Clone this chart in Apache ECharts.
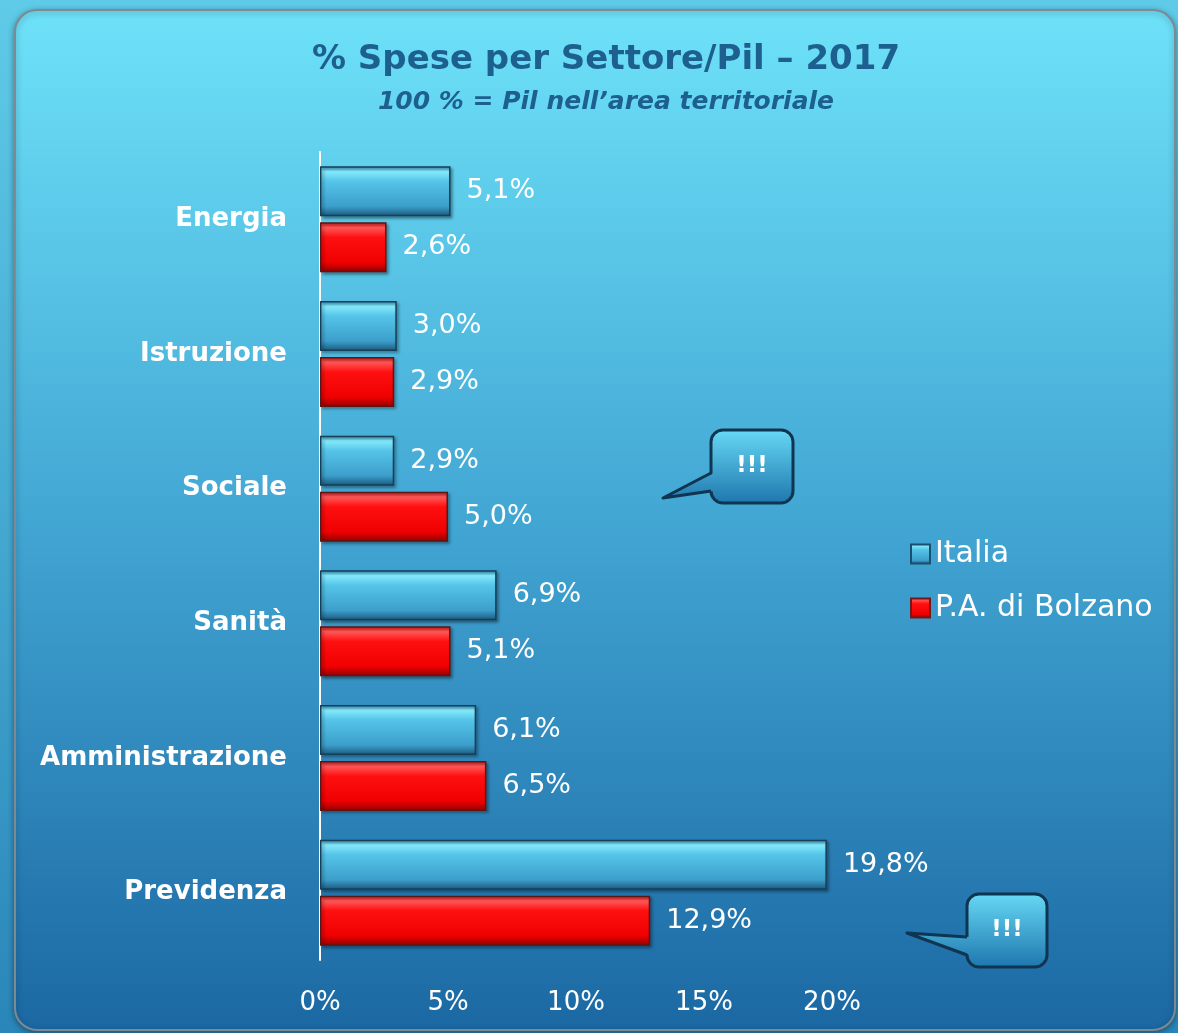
<!DOCTYPE html>
<html>
<head>
<meta charset="utf-8">
<script src="https://cdn.jsdelivr.net/npm/echarts@6/dist/echarts.min.js"></script>
<style>
  html, body { margin: 0; padding: 0; }
  #chart { width: 1178px; height: 1033px; }
</style>
</head>
<body>
<div id="chart"></div>
<script>
var categories = ['Energia', 'Istruzione', 'Sociale', 'Sanità', 'Amministrazione', 'Previdenza'];
var italia = [5.1, 3.0, 2.9, 6.9, 6.1, 19.8];
var bolzano = [2.6, 2.9, 5.0, 5.1, 6.5, 12.9];
var xTicks = [0, 5, 10, 15, 20];

var FONT = "'DejaVu Sans', 'Open Sans', sans-serif";

function fmt(v) {
  return v.toFixed(1).replace('.', ',') + '%';
}

var blueFill = new echarts.graphic.LinearGradient(0, 0, 0, 1, [
  { offset: 0, color: '#2f8fbc' },
  { offset: 0.1, color: '#86ecfd' },
  { offset: 0.3, color: '#55c4e8' },
  { offset: 0.8, color: '#3c9fcb' },
  { offset: 1, color: '#1a587c' }
]);
var redFill = new echarts.graphic.LinearGradient(0, 0, 0, 1, [
  { offset: 0, color: '#e01010' },
  { offset: 0.1, color: '#ff5a5a' },
  { offset: 0.3, color: '#ff1010' },
  { offset: 0.8, color: '#f00000' },
  { offset: 1, color: '#900000' }
]);

// speech bubble: rounded box + tail pointing left
function bubble(x, y, w, h, tip, j1, j2) {
  var fill = {
    type: 'linear', x: 0, y: y, x2: 0, y2: y + h, global: true,
    colorStops: [{ offset: 0, color: '#66d8f4' }, { offset: 1, color: '#1f77ae' }]
  };
  return [
    {
      type: 'rect', z: 10,
      shape: { x: x, y: y, width: w, height: h, r: 12 },
      style: { fill: fill, stroke: '#0f3550', lineWidth: 3 }
    },
    {
      type: 'polygon', z: 11,
      shape: { points: [tip, [x + 3, j1], [x + 3, j2]] },
      style: { fill: fill }
    },
    {
      type: 'polyline', z: 12,
      shape: { points: [[x, j1], tip, [x, j2]] },
      style: { stroke: '#0f3550', lineWidth: 3, fill: null, lineJoin: 'round' }
    },
    {
      type: 'text', z: 13, x: x + w / 2, y: y + h / 2,
      style: { text: '!!!', fill: '#ffffff', font: 'bold 23px ' + FONT, textAlign: 'center', textVerticalAlign: 'middle' }
    }
  ];
}

var chart = echarts.init(document.getElementById('chart'));

chart.setOption({
  backgroundColor: new echarts.graphic.LinearGradient(0, 0, 0, 1, [
    { offset: 0, color: '#5fcbe8' },
    { offset: 1, color: '#2a86b9' }
  ]),
  graphic: [
    {
      type: 'rect', z: -10,
      shape: { x: 15, y: 10, width: 1160, height: 1020, r: 22 },
      style: {
        fill: {
          type: 'linear', x: 0, y: 0, x2: 0, y2: 1,
          colorStops: [
            { offset: 0, color: '#6ee2f9' },
            { offset: 0.5, color: '#42a6d3' },
            { offset: 1, color: '#1b68a3' }
          ]
        },
        stroke: '#7d8a94', lineWidth: 2,
        shadowBlur: 6, shadowColor: 'rgba(0,0,0,0.35)', shadowOffsetY: 2
      }
    }
  ].concat(
    bubble(711, 430, 82, 73, [663, 498], 473, 491),
    bubble(967, 894, 80, 73, [907, 933], 937, 955)
  ),
  title: {
    text: '% Spese per Settore/Pil – 2017',
    subtext: '100 % = Pil nell’area territoriale',
    left: 601,
    textAlign: 'center',
    top: 38,
    itemGap: 13,
    textStyle: { color: '#1d5f8e', fontSize: 34, fontWeight: 'bold', fontFamily: FONT },
    subtextStyle: { color: '#1d5f8e', fontSize: 25, fontStyle: 'italic', fontWeight: 'bold', fontFamily: FONT }
  },
  legend: {
    orient: 'vertical',
    left: 905,
    top: 534,
    itemWidth: 19,
    itemHeight: 19,
    itemGap: 24,
    icon: 'rect',
    textStyle: { color: '#ffffff', fontSize: 30, lineHeight: 24, fontFamily: FONT },
    data: [
      { name: 'Italia', itemStyle: { color: blueFill, borderColor: '#1b4f6e', borderWidth: 2 } },
      { name: 'P.A. di Bolzano', itemStyle: { color: redFill, borderColor: '#6e1b1b', borderWidth: 2 } }
    ]
  },
  grid: { left: 320, right: 346, top: 152, bottom: 73, containLabel: false },
  xAxis: {
    type: 'value',
    min: xTicks[0],
    max: xTicks[xTicks.length - 1],
    interval: xTicks[1] - xTicks[0],
    axisLine: { show: false },
    axisTick: { show: false },
    splitLine: { show: false },
    axisLabel: { color: '#ffffff', fontSize: 26, fontFamily: FONT, margin: 30, formatter: '{value}%' }
  },
  yAxis: {
    type: 'category',
    inverse: true,
    data: categories,
    axisLine: { show: true, lineStyle: { color: '#ffffff', width: 2 } },
    axisTick: { show: false },
    axisLabel: { color: '#ffffff', fontSize: 26, fontWeight: 'bold', fontFamily: FONT, margin: 33 }
  },
  series: [
    {
      name: 'Italia',
      type: 'bar',
      data: italia,
      barWidth: 50,
      barGap: '12%',
      itemStyle: {
        color: blueFill, borderColor: '#173f58', borderWidth: 1.5,
        shadowBlur: 3, shadowColor: 'rgba(0,0,0,0.35)', shadowOffsetX: 2, shadowOffsetY: 2
      },
      label: {
        show: true, position: 'right', distance: 16,
        color: '#ffffff', fontSize: 27, fontFamily: FONT,
        formatter: function (p) { return fmt(p.value); }
      }
    },
    {
      name: 'P.A. di Bolzano',
      type: 'bar',
      data: bolzano,
      barWidth: 50,
      itemStyle: {
        color: redFill, borderColor: '#5e1515', borderWidth: 1.5,
        shadowBlur: 3, shadowColor: 'rgba(0,0,0,0.35)', shadowOffsetX: 2, shadowOffsetY: 2
      },
      label: {
        show: true, position: 'right', distance: 16,
        color: '#ffffff', fontSize: 27, fontFamily: FONT,
        formatter: function (p) { return fmt(p.value); }
      }
    }
  ]
});
</script>
</body>
</html>
